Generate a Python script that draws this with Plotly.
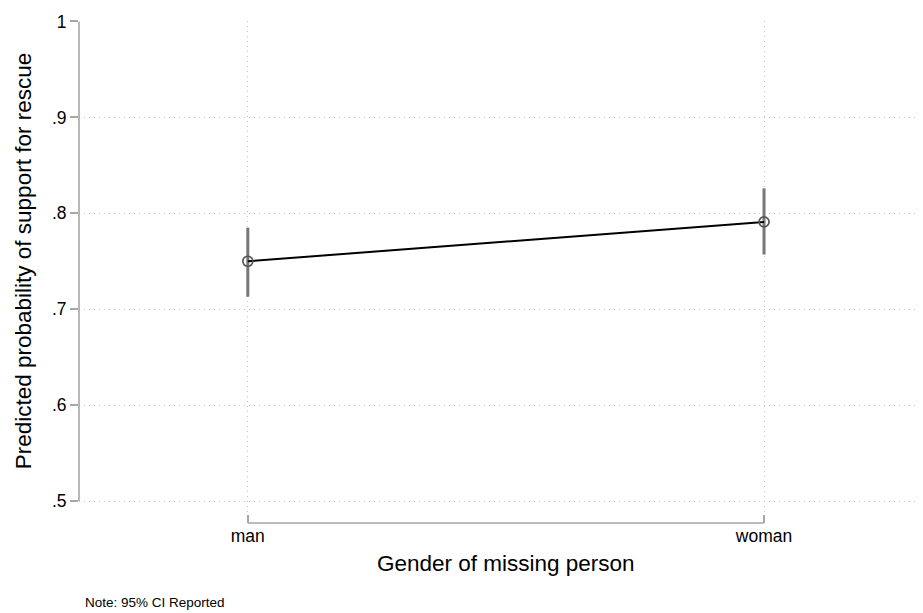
import plotly.graph_objects as go

categories = ["man", "woman"]
predicted = [0.750, 0.791]
ci_low = [0.713, 0.757]
ci_high = [0.785, 0.826]
y_tick_vals = [0.5, 0.6, 0.7, 0.8, 0.9, 1.0]
y_tick_text = [".5", ".6", ".7", ".8", ".9", "1"]

x_idx = list(range(len(categories)))
err_plus = [h - p for h, p in zip(ci_high, predicted)]
err_minus = [p - l for p, l in zip(predicted, ci_low)]

FONT = "Liberation Sans, Arial, Helvetica, sans-serif"
AXIS_COLOR = "#a6a6a6"
GRID_COLOR = "#c4c4c4"

fig = go.Figure()
fig.add_trace(go.Scatter(
    x=x_idx, y=predicted, mode="lines+markers",
    line=dict(color="black", width=2),
    marker=dict(symbol="circle-open", size=10, color="#555555", line=dict(width=1.7, color="#555555")),
    error_y=dict(type="data", symmetric=False, array=err_plus, arrayminus=err_minus,
                 color="#777777", thickness=3, width=0),
    showlegend=False, hoverinfo="skip",
))

# Stata-style axis lines spanning only the data/tick range
fig.add_shape(type="line", xref="x", yref="paper", x0=x_idx[0], x1=x_idx[-1], y0=0, y1=0,
              line=dict(color=AXIS_COLOR, width=1.6))
fig.add_shape(type="line", xref="paper", yref="y", x0=0, x1=0, y0=y_tick_vals[0], y1=y_tick_vals[-1],
              line=dict(color=AXIS_COLOR, width=1.6))

fig.add_annotation(text="Gender of missing person", xref="x", yref="paper",
                   x=(x_idx[0] + x_idx[-1]) / 2, y=-0.0797, yanchor="middle", showarrow=False,
                   font=dict(family=FONT, size=22.5, color="black"))
fig.add_annotation(text="Predicted probability of support for rescue", xref="paper", yref="y",
                   x=-0.0664, y=(y_tick_vals[0] + y_tick_vals[-1]) / 2, xanchor="center", yanchor="middle",
                   textangle=-90, showarrow=False, font=dict(family=FONT, size=22.5, color="black"))
fig.add_annotation(text="Note: 95% CI Reported", xref="paper", yref="paper",
                   x=0.0047, y=-0.159, xanchor="left", yanchor="middle", showarrow=False,
                   font=dict(family=FONT, size=13.5, color="black"))

# the page body adds an 8px offset, so the figure is sized to end at the window edge
fig.update_layout(
    width=915, height=605,
    margin=dict(l=71, r=1, t=13, b=90),
    paper_bgcolor="white", plot_bgcolor="white",
    font=dict(family=FONT, color="black"),
    xaxis=dict(
        range=[-0.327, 1.306], tickvals=x_idx, ticktext=categories,
        showline=False, zeroline=False, automargin=False,
        ticks="inside", ticklen=8, tickwidth=1.6, tickcolor=AXIS_COLOR,
        showgrid=True, gridcolor=GRID_COLOR, griddash="1px,4px", gridwidth=1,
        tickfont=dict(family=FONT, size=17.5, color="black"),
    ),
    yaxis=dict(
        range=[0.4771, 1.0005], tickvals=y_tick_vals, ticktext=y_tick_text,
        showline=False, zeroline=False, automargin=False,
        ticks="outside", ticklen=8, tickwidth=1.6, tickcolor=AXIS_COLOR,
        showgrid=True, gridcolor=GRID_COLOR, griddash="1px,4px", gridwidth=1,
        tickfont=dict(family=FONT, size=17.5, color="black"),
    ),
)

fig.write_html("out.html")
